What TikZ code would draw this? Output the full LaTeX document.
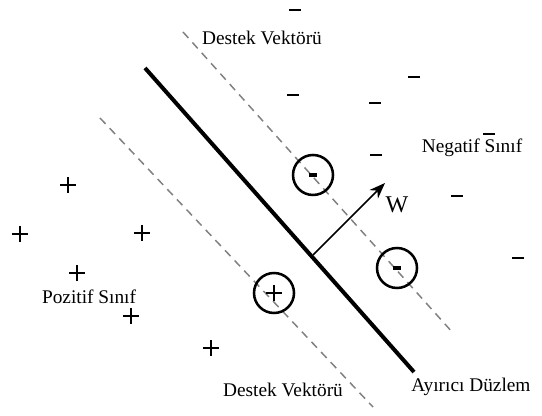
\documentclass[tikz,border=0pt]{standalone}
\usepackage{fontspec}
\setmainfont{Liberation Serif}
\usetikzlibrary{arrows.meta}
\begin{document}
\begin{tikzpicture}[x=0.75pt,y=-0.75pt,
  lbl/.style={font=\fontsize{14.5}{16}\selectfont,inner sep=0pt},
  sv/.style={draw,circle,line width=1.9pt,minimum size=30pt,inner sep=0pt},
  margin/.style={gray,line width=1.1pt,dash pattern=on 6pt off 4.5pt}]
\fill[white] (0,0) rectangle (542,416);

% ayirici duzlem ve destek vektorleri
\draw[line width=3pt] (145,68) -- (414,372);
\draw[margin] (183,32) -- (453,333);
\draw[margin] (100,118) -- (373,407);

% pozitif sinif
\foreach \x/\y in {68/185,20/234,142/233,77/273,131/316,211/348}
  \draw[line width=1.5pt] (\x-8,\y) -- (\x+8,\y) (\x,\y-8) -- (\x,\y+8);

% negatif sinif
\foreach \x/\y in {295/10,293/95,375/103,414/77,376/155,489/134,457/196,518/258}
  \draw[line width=2.2pt] (\x-6,\y) -- (\x+6,\y);

% destek vektorleri
\node[sv] (sv1) at (313,175) {};
\node[sv] (sv2) at (397,268) {};
\node[sv] (sv3) at (274,293) {};
\draw[line width=2.4pt] (sv1.center) ++(-4,0) -- ++(8,0);
\draw[line width=2.4pt] (sv2.center) ++(-4,0) -- ++(8,0);
\draw[line width=1.5pt] (sv3.center) ++(-8,0) -- ++(16,0) (sv3.center) ++(0,-8) -- ++(0,16);

% normal vektor
\coordinate (foot) at (313,255);
\coordinate (wtip) at (385,183);
\draw[line width=1.1pt,-{Stealth[length=12pt,width=9pt]}] (foot) -- (wtip);
\node[font=\fontsize{18}{20}\selectfont,inner sep=0pt] (w) at (397,205) {W};

\node[lbl] (dvtop) at (262,38) {Destek Vektörü};
\node[lbl] (neg) at (472,148) {Negatif Sınıf};
\node[lbl] (poz) at (89,297) {Pozitif Sınıf};
\node[lbl] (dvbot) at (283,390) {Destek Vektörü};
\node[lbl] (ayirici) at (471,387) {Ayırıcı Düzlem};
\end{tikzpicture}
\end{document}
